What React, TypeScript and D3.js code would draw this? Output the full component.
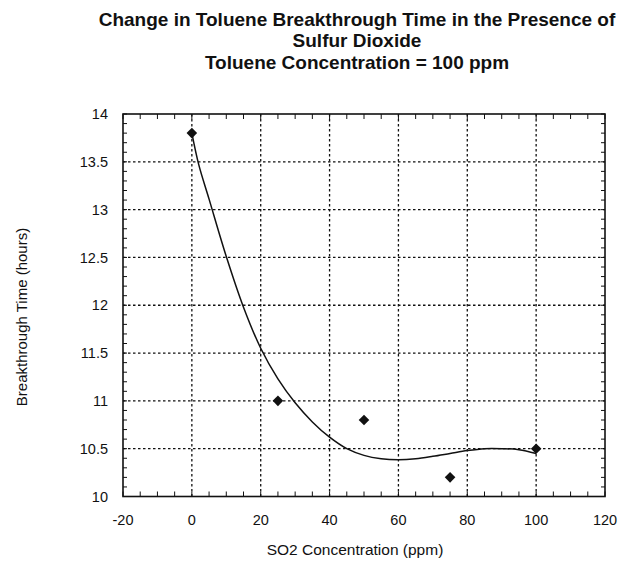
import React from "react";
import * as d3 from "d3";

const titleLines = [
  "Change in Toluene Breakthrough Time in the Presence of",
  "Sulfur Dioxide",
  "Toluene Concentration = 100 ppm",
];
const xLabel = "SO2 Concentration (ppm)";
const yLabel = "Breakthrough Time (hours)";

const so2 = [0, 25, 50, 75, 100];
const breakthrough = [13.8, 11, 10.8, 10.2, 10.5];

// fitted smooth curve
const fitX = [0, 2, 5, 10, 15, 20, 25, 30, 35, 40, 45, 50, 55, 60, 65, 70, 75, 80, 85, 90, 95, 100];
const fitY = [13.8, 13.47, 13.11, 12.51, 11.98, 11.55, 11.23, 10.98, 10.78, 10.62, 10.5, 10.43, 10.395, 10.385, 10.395, 10.42, 10.45, 10.48, 10.5, 10.5, 10.49, 10.45];

const xTicks = [-20, 0, 20, 40, 60, 80, 100, 120];
const yTicks = [10, 10.5, 11, 11.5, 12, 12.5, 13, 13.5, 14];

const W = 621;
const H = 566;
const L = 123, R = 605, T = 114, B = 496.5;

export default function App() {
  const x = d3.scaleLinear().domain([-20, 120]).range([L, R]);
  const y = d3.scaleLinear().domain([10, 14]).range([B, T]);

  const xMinor = d3.range(-20, 120.001, 5);
  const yMinor = d3.range(10, 14.0001, 0.1);

  const line = d3
    .line<number>()
    .x((_, i) => x(fitX[i]))
    .y((d) => y(d))
    .curve(d3.curveCatmullRom.alpha(0.5));

  const diamond = d3.symbol().type(d3.symbolSquare).size(56)();

  const font = "Arial, 'Liberation Sans', Helvetica, sans-serif";

  return (
    <svg width={W} height={H} style={{ position: "absolute", left: 0, top: 0, background: "#fff" }} fontFamily={font}>
      <rect width={W} height={H} fill="#fff" />
      {titleLines.map((t, i) => (
        <text key={i} x={357} y={26 + i * 21.3} textAnchor="middle" fontSize={19} fontWeight="bold" fill="#111">
          {t}
        </text>
      ))}

      {/* grid */}
      {xTicks.slice(1, -1).map((v) => (
        <line key={"gx" + v} x1={x(v)} x2={x(v)} y1={T} y2={B} stroke="#111" strokeWidth={1.3} strokeDasharray="2.5 2.5" />
      ))}
      {yTicks.slice(1, -1).map((v) => (
        <line key={"gy" + v} x1={L} x2={R} y1={y(v)} y2={y(v)} stroke="#111" strokeWidth={1.3} strokeDasharray="2.5 2.5" />
      ))}

      {/* minor ticks */}
      {xMinor.map((v) => (
        <g key={"mx" + v}>
          <line x1={x(v)} x2={x(v)} y1={B} y2={B - 5} stroke="#111" strokeWidth={1} />
          <line x1={x(v)} x2={x(v)} y1={T} y2={T + 5} stroke="#111" strokeWidth={1} />
        </g>
      ))}
      {yMinor.map((v) => (
        <g key={"my" + v.toFixed(1)}>
          <line x1={L} x2={L + 4} y1={y(v)} y2={y(v)} stroke="#111" strokeWidth={1} />
          <line x1={R} x2={R - 4} y1={y(v)} y2={y(v)} stroke="#111" strokeWidth={1} />
        </g>
      ))}

      {/* frame */}
      <rect x={L} y={T} width={R - L} height={B - T} fill="none" stroke="#111" strokeWidth={1.6} />

      {/* tick labels */}
      {xTicks.map((v) => (
        <text key={"tx" + v} x={x(v)} y={525} textAnchor="middle" fontSize={14.5} fill="#111">
          {v}
        </text>
      ))}
      {yTicks.map((v) => (
        <text key={"ty" + v} x={108} y={y(v)} dy="0.35em" textAnchor="end" fontSize={14.5} fill="#111">
          {v}
        </text>
      ))}

      {/* axis labels */}
      <text x={355} y={555} textAnchor="middle" fontSize={15.5} fill="#111">
        {xLabel}
      </text>
      <text transform={`translate(27,317) rotate(-90)`} textAnchor="middle" fontSize={15} fill="#111">
        {yLabel}
      </text>

      {/* fit curve */}
      <path d={line(fitY) || ""} fill="none" stroke="#111" strokeWidth={1.5} />

      {/* points */}
      {so2.map((v, i) => (
        <path key={"p" + i} d={diamond || ""} transform={`translate(${x(v)},${y(breakthrough[i])}) rotate(45)`} fill="#111" />
      ))}
    </svg>
  );
}
